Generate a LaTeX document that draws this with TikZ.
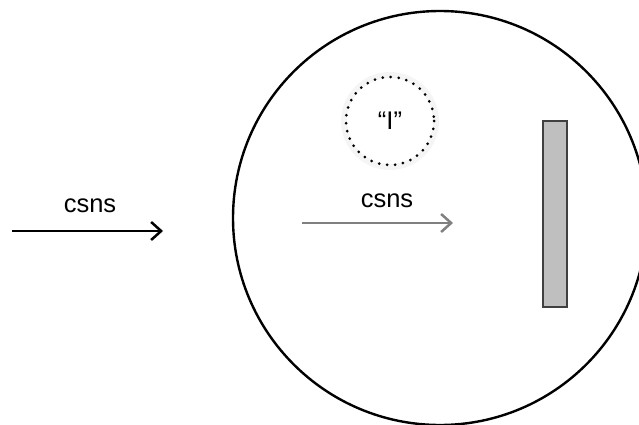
\documentclass[tikz,border=0pt]{standalone}
\usepackage{fontspec}
\setmainfont{Liberation Sans}
\usetikzlibrary{arrows.meta}
\tikzset{
  lbl/.style={font=\fontsize{25.5}{28}\selectfont, inner sep=0pt, anchor=base},
  flowarrow/.style={line width=2.5pt, -{Straight Barb[length=10pt,width=18pt,line width=2.5pt]}},
}
\begin{document}
\begin{tikzpicture}[x=1pt,y=-1pt]
\useasboundingbox (0,0) rectangle (639,425);
\clip (0,0) rectangle (639,425);
% big circle
\draw[line width=2.4pt] (440,218) circle[radius=207];
% dotted circle with faint halo
\draw[line width=6pt, black!4] (390,121) circle[radius=46];
\draw[line width=3pt, line cap=round, dash pattern=on 0pt off 8pt] (390,121) circle[radius=44];
\node[lbl] (I) at (390,129) {“I”};
% plate
\draw[line width=1.4pt, fill=black!25, draw=black!75] (543,121) rectangle (567,307);
\node[inner sep=0pt] (plate) at (555,214) {};
% left arrow
\coordinate (a1) at (12,231);
\coordinate (a2) at (163,231);
\draw[flowarrow, black] (a1) -- (a2);
\node[lbl] (t1) at (90,212) {csns};
% inner arrow
\coordinate (b1) at (302,223);
\coordinate (b2) at (453,223);
\draw[flowarrow, black!50] (b1) -- (b2);
\node[lbl] (t2) at (387,207) {csns};
\end{tikzpicture}
\end{document}
